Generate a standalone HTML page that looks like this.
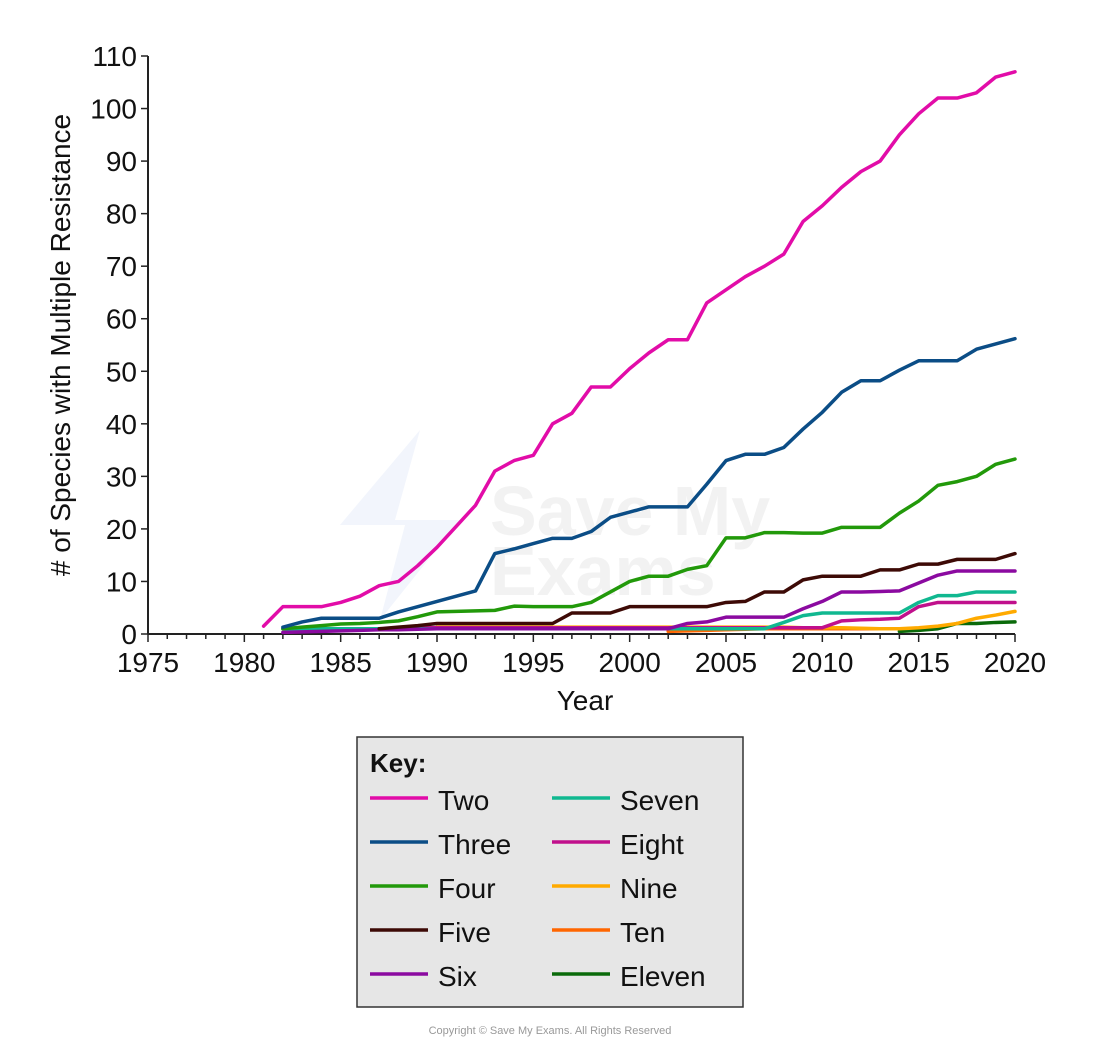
<!DOCTYPE html>
<html><head><meta charset="utf-8"><style>
body{margin:0;background:#fff;font-family:"Liberation Sans",sans-serif}
svg text{font-family:"Liberation Sans",sans-serif;fill:#111}
</style></head><body>
<svg width="1100" height="1050" viewBox="0 0 1100 1050">
<g id="wm"><polygon points="420,430 340,525 405,525 380,620 460,520 395,520" fill="#f2f5fc"/><text x="490" y="535" font-size="70" font-weight="bold" style="fill:#f2f2f2">Save My</text><text x="490" y="595" font-size="70" font-weight="bold" style="fill:#f2f2f2">Exams</text></g>
<g id="axes"></g><g id="lines"></g>
<text x="585" y="710" font-size="28" text-anchor="middle">Year</text>
<text transform="translate(70,345) rotate(-90)" font-size="28" text-anchor="middle"># of Species with Multiple Resistance</text>
<g>
<rect x="357" y="737" width="386" height="270" fill="#e6e6e6" stroke="#333" stroke-width="1.5"/>
<text x="370" y="772" font-size="26" font-weight="bold">Key:</text>
<g id="leg"></g></g>
<text x="550" y="1034" font-size="11" text-anchor="middle" style="fill:#999">Copyright © Save My Exams. All Rights Reserved</text>
</svg>
<script>
const names=["Two","Three","Four","Five","Six","Seven","Eight","Nine","Ten","Eleven"];
const colors=["#e20ca8","#0b4d86","#22990a","#3d0a06","#8b0aa0","#10b890","#c0108c","#ffaa00","#ff6600","#0a6a0a"];
const starts=[1981,1982,1982,1987,1982,1982,1989,1990,2002,2014];
const two=[1.5,5.2,5.2,5.2,6,7.2,9.2,10,13,16.5,20.5,24.5,31,33,34,40,42,47,47,50.5,53.5,56,56,63,65.5,68,70,72.3,78.5,81.5,85,88,90,95,99,102,102,103,106,107];
const three=[1.3,2.3,3,3,3,3,4.2,5.2,6.2,7.2,8.2,15.3,16.2,17.2,18.2,18.2,19.5,22.2,23.2,24.2,24.2,24.2,28.5,33,34.2,34.2,35.5,39,42.2,46,48.2,48.2,50.2,52,52,52,54.2,55.2,56.2];
const four=[1,1.3,1.6,1.9,2,2.2,2.5,3.3,4.2,4.3,4.4,4.5,5.3,5.2,5.2,5.2,6,8,10,11,11,12.3,13,18.3,18.3,19.3,19.3,19.2,19.2,20.3,20.3,20.3,23,25.3,28.3,29,30,32.3,33.3];
const five=[1,1.3,1.6,2,2,2,2,2,2,2,4,4,4,5.2,5.2,5.2,5.2,5.2,6,6.2,8,8,10.3,11,11,11,12.2,12.2,13.3,13.3,14.2,14.2,14.2,15.3];
const six=[0.3,0.4,0.5,0.6,0.7,0.8,0.8,0.9,1,1,1,1,1,1,1,1,1,1,1,1,1,2,2.3,3.2,3.2,3.2,3.2,4.8,6.2,8,8,8.1,8.2,9.7,11.2,12,12,12,12];
const seven=[1,1,1,1,1,1,1,1,1,1,1,1,1,1,1,1,1,1,1,1,1,1,1,1,1,1,2.2,3.5,4,4,4,4,4,6,7.3,7.3,8,8,8];
const eight=[1.2,1.2,1.2,1.2,1.2,1.2,1.2,1.2,1.2,1.2,1.2,1.2,1.2,1.2,1.2,1.2,1.2,1.2,1.2,1.2,1.2,1.2,2.5,2.7,2.8,3,5.2,6,6,6,6,6];
const nine=[1.3,1.3,1.3,1.3,1.3,1.3,1.3,1.3,1.3,1.3,1.3,1.3,1.3,1.3,1.3,1.3,1.3,1.3,1.3,1.2,1.2,1.2,1.1,1,1,1.2,1.5,2,3,3.6,4.3];
const ten=[0.5,0.6,0.7,0.8,0.9,1,1,1,1,1,1,1];
const eleven=[0.5,0.7,1,2,2,2.2,2.3];
const series=[two,three,four,five,six,seven,eight,nine,ten,eleven];
const xTicks=[1975,1980,1985,1990,1995,2000,2005,2010,2015,2020];
const yTicks=[0,10,20,30,40,50,60,70,80,90,100,110];
const X=y=>148+(y-1975)*(1015-148)/45, Y=v=>634-v*(634-56)/110;
const NS="http://www.w3.org/2000/svg";
function mk(t,a,p){const e=document.createElementNS(NS,t);for(const k in a)e.setAttribute(k,a[k]);p.appendChild(e);return e;}
const ax=document.getElementById('axes');
const xl=mk('line',{x1:148,y1:634,x2:1015,y2:634,stroke:'#222','stroke-width':2},ax);


const yl=mk('line',{x1:148,y1:634,x2:148,y2:56,stroke:'#222','stroke-width':2},ax);


for(let i=1975;i<=2020;i++){mk('line',{x1:X(i),y1:634,x2:X(i),y2:i%5?639:642,stroke:'#222','stroke-width':1.5},ax);}
xTicks.forEach(t=>{const e=mk('text',{x:X(t),y:672,'font-size':28,'text-anchor':'middle'},ax);e.textContent=t;

});
yTicks.forEach(t=>{mk('line',{x1:141,y1:Y(t),x2:148,y2:Y(t),stroke:'#222','stroke-width':1.5},ax);
const e=mk('text',{x:137,y:Y(t)+10,'font-size':28,'text-anchor':'end'},ax);e.textContent=t;

});
const lg=document.getElementById('lines');
for(let s=series.length-1;s>=0;s--){const pts=series[s].map((v,i)=>X(starts[s]+i)+','+Y(v)).join(' ');
const p=mk('polyline',{points:pts,fill:'none',stroke:colors[s],'stroke-width':3.5,'stroke-linejoin':'round','stroke-linecap':'round'},lg);

}
const leg=document.getElementById('leg');
names.forEach((n,i)=>{const col=i<5?0:1,row=i%5;const x=col?552:370,y=803+row*44;
mk('line',{x1:x,y1:y-5,x2:x+58,y2:y-5,stroke:colors[i],'stroke-width':3.5},leg);
const t=mk('text',{x:x+68,y:y+7,'font-size':28},leg);t.textContent=n;

});
</script>
</body></html>
